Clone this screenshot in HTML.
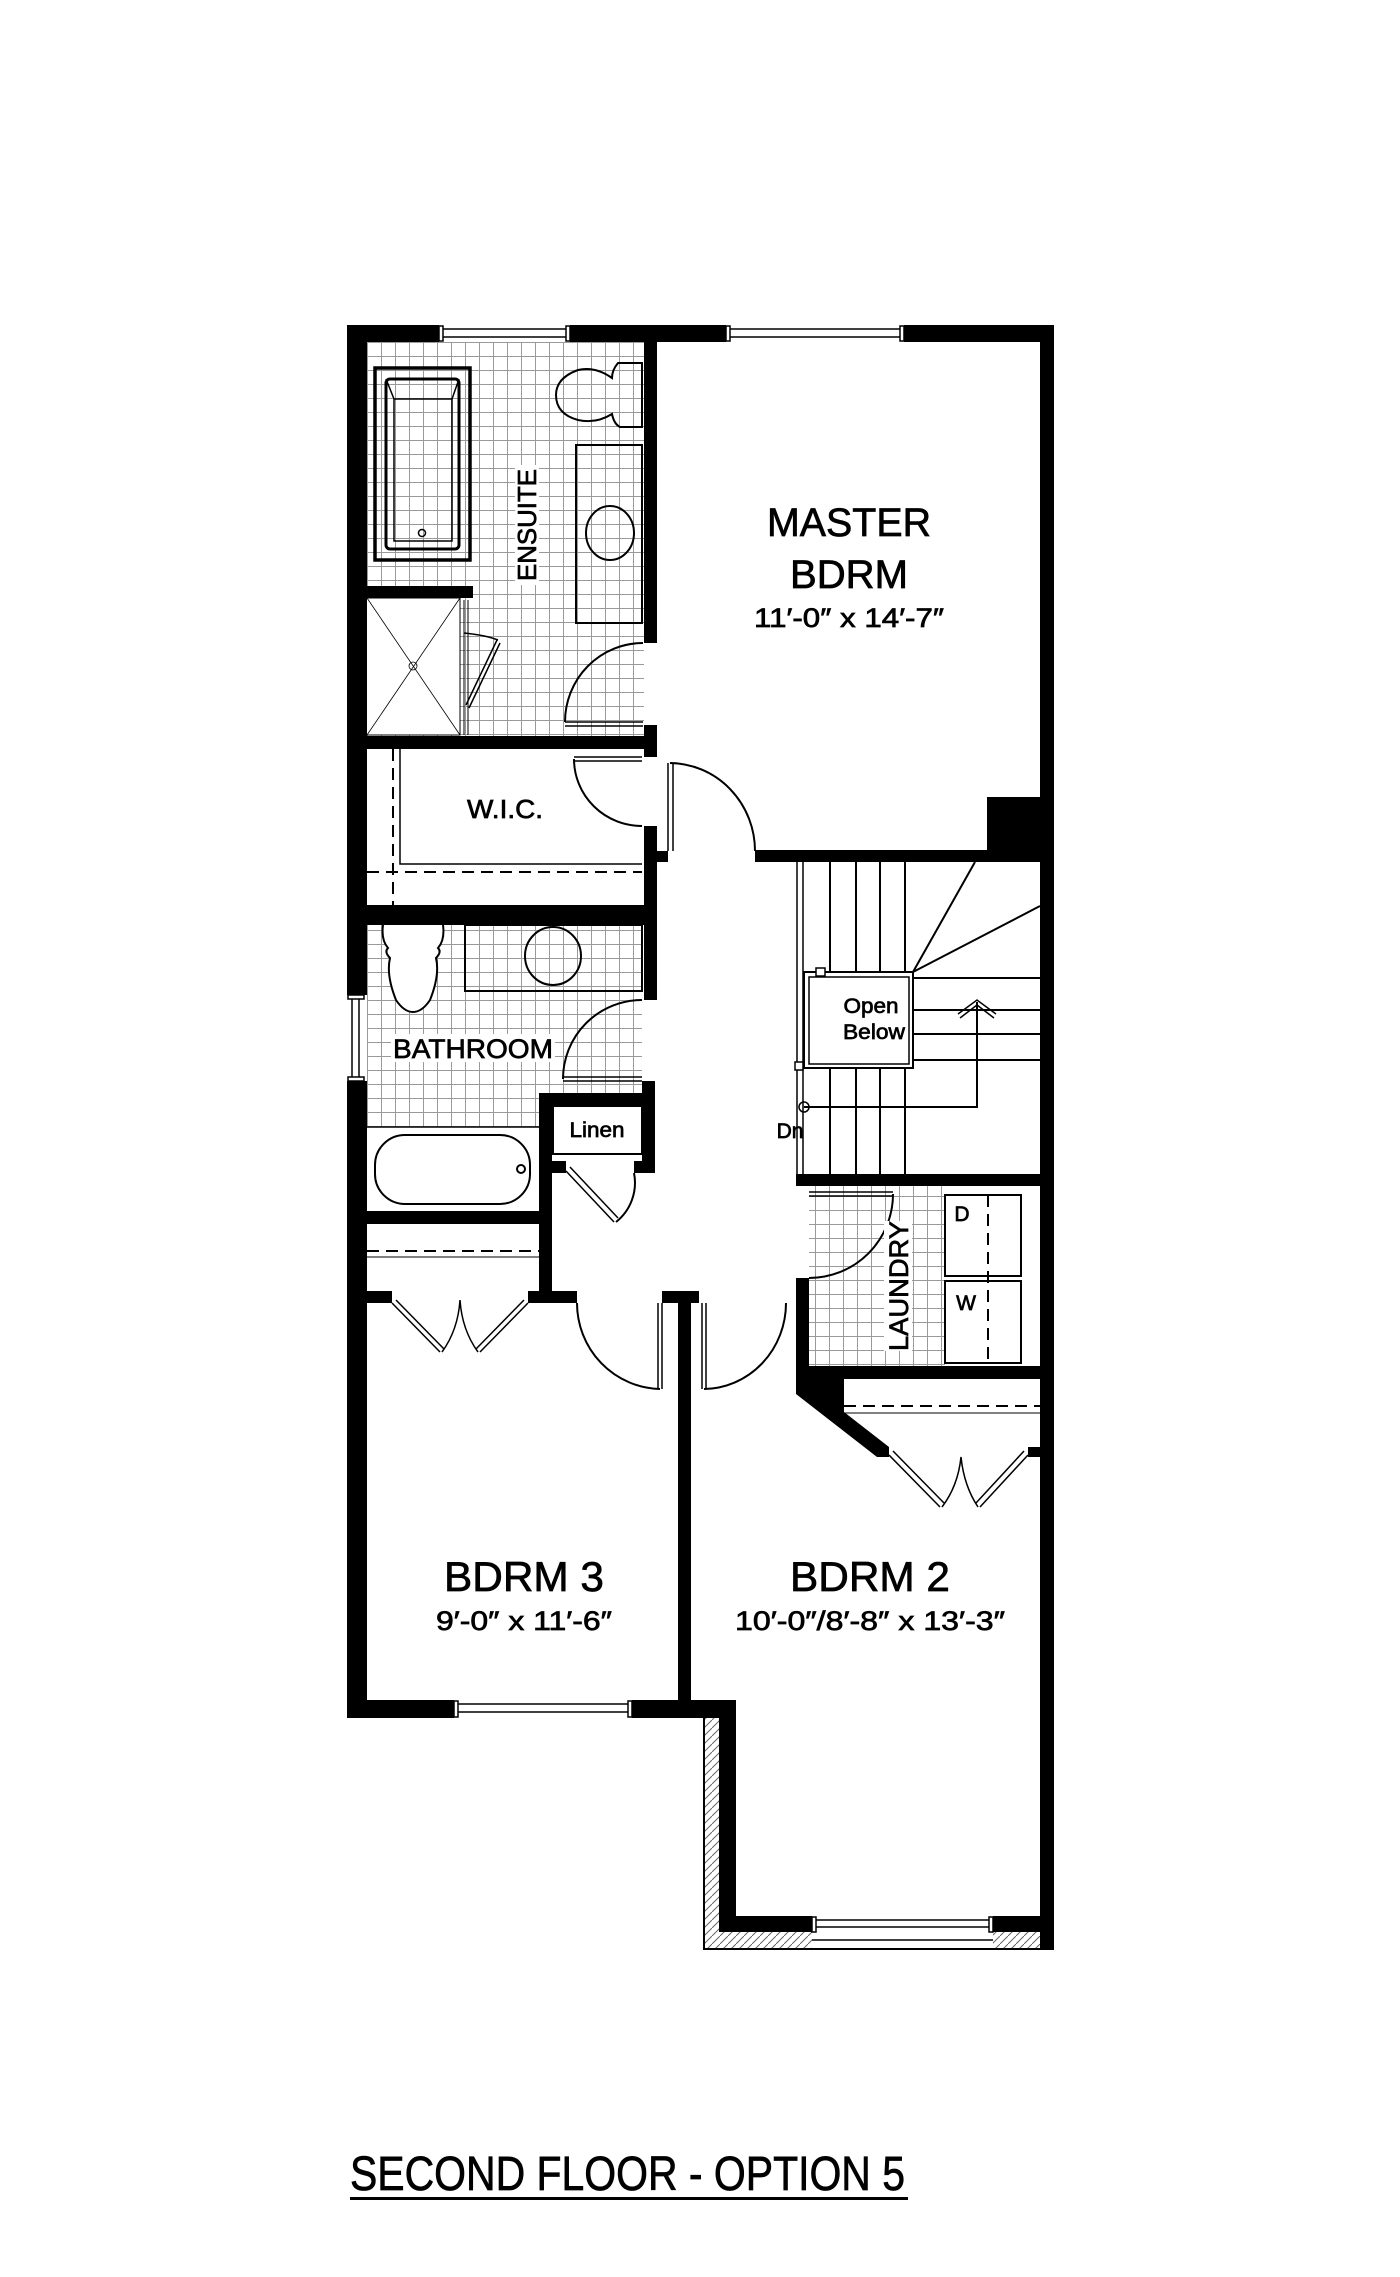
<!DOCTYPE html>
<html><head><meta charset="utf-8"><style>
html,body{margin:0;padding:0;background:#fff}
svg{display:block}
text{font-family:"Liberation Sans","DejaVu Sans",sans-serif;fill:#000;stroke:#000;stroke-width:0.7}
</style></head><body>
<svg width="1400" height="2277" viewBox="0 0 1400 2277" xmlns="http://www.w3.org/2000/svg">
<defs>
<pattern id="tile" x="367" y="342" width="14" height="14" patternUnits="userSpaceOnUse">
<path d="M0 0.5H14M0.5 0V14" stroke="#9a9a9a" stroke-width="1" fill="none"/>
</pattern>
<pattern id="hatch" width="8" height="8" patternUnits="userSpaceOnUse">
<path d="M0 8L8 0" stroke="#666" stroke-width="1"/>
</pattern>
</defs>
<rect width="1400" height="2277" fill="#fff"/>

<rect x="367" y="342" width="277" height="394" fill="url(#tile)"/>
<rect x="367" y="925" width="275" height="202" fill="url(#tile)"/>
<rect x="809" y="1186" width="136" height="180" fill="url(#tile)"/>
<rect x="367" y="598" width="93" height="137" fill="#fff"/>
<rect x="540" y="1093" width="115" height="40" fill="#fff"/>

<g fill="#000">
<rect x="347" y="325" width="92" height="17"/>
<rect x="570" y="325" width="156" height="17"/>
<rect x="904" y="325" width="150" height="17"/>
<rect x="347" y="325" width="20" height="670"/>
<rect x="347" y="1081" width="20" height="637"/>
<rect x="1040" y="325" width="14" height="1624"/>
<rect x="644" y="342" width="13" height="301"/>
<rect x="644" y="725" width="13" height="32"/>
<rect x="644" y="826" width="13" height="174"/>
<rect x="642" y="1081" width="13" height="92"/>
<rect x="367" y="736" width="290" height="13"/>
<rect x="367" y="586" width="106" height="12"/>
<rect x="367" y="905" width="288" height="20"/>
<rect x="755" y="850" width="299" height="12"/>
<rect x="987" y="797" width="53" height="53"/>
<rect x="657" y="851" width="11" height="11"/>
<rect x="539" y="1093" width="116" height="13"/>
<rect x="539" y="1093" width="13" height="198"/>
<rect x="552" y="1161" width="14" height="12"/>
<rect x="634" y="1161" width="21" height="12"/>
<rect x="367" y="1211" width="172" height="13"/>
<rect x="367" y="1291" width="25" height="12"/>
<rect x="528" y="1291" width="49" height="12"/>
<rect x="662" y="1291" width="37" height="12"/>
<rect x="678" y="1291" width="13" height="427"/>
<rect x="796" y="1174" width="258" height="12"/>
<rect x="796" y="1278" width="13" height="101"/>
<rect x="796" y="1366" width="258" height="13"/>
<polygon points="796,1379 844,1379 844,1412 889,1447 889,1457 877,1457 796,1394"/>
<rect x="1028" y="1447" width="12" height="10"/>
<rect x="347" y="1700" width="107" height="18"/>
<rect x="632" y="1700" width="104" height="18"/>
<rect x="719" y="1700" width="17" height="232"/>
<rect x="719" y="1916" width="93" height="16"/>
<rect x="993" y="1916" width="61" height="16"/>
</g>

<rect x="704" y="1718" width="15" height="231" fill="url(#hatch)"/>
<rect x="719" y="1932" width="93" height="17" fill="url(#hatch)"/>
<rect x="993" y="1932" width="47" height="17" fill="url(#hatch)"/>
<path d="M704 1718V1949H1054" stroke="#000" stroke-width="2" fill="none"/>

<g stroke="#000" fill="none" stroke-width="1.5">
<path d="M439 329H570M439 337H570M726 329H904M726 337H904"/>
<rect x="439" y="326" width="4" height="15" fill="#fff"/><rect x="566" y="326" width="4" height="15" fill="#fff"/>
<rect x="726" y="326" width="4" height="15" fill="#fff"/><rect x="900" y="326" width="4" height="15" fill="#fff"/>
<path d="M352 995V1081M359 995V1081"/>
<rect x="348" y="995" width="16" height="4" fill="#fff"/><rect x="348" y="1077" width="16" height="4" fill="#fff"/>
<path d="M454 1704H632M454 1712H632"/>
<rect x="454" y="1701" width="4" height="16" fill="#fff"/><rect x="628" y="1701" width="4" height="16" fill="#fff"/>
<path d="M812 1920H993M812 1927H993M812 1940H993M812 1949H993"/>
<rect x="812" y="1917" width="4" height="15" fill="#fff"/><rect x="989" y="1917" width="4" height="15" fill="#fff"/>

<rect x="375" y="368" width="95" height="192" stroke-width="3.5"/>
<rect x="386" y="379" width="73" height="170" rx="4" stroke-width="3"/>
<rect x="394" y="399" width="58" height="142" stroke-width="1.5"/>
<path d="M386 379L394 399M459 379L452 399"/>
<circle cx="422" cy="533" r="3.5"/>
<path d="M367 598H460V735H367" stroke-width="1"/>
<path d="M367 598L460 735M460 598L367 735" stroke-width="0.8"/>
<circle cx="413" cy="666" r="4" stroke-width="0.8"/>
<path d="M464 600V735M468 600V735" stroke-width="1"/>
<path d="M497 640L466 705M500 643L469 708" stroke-width="1.5"/>
<path d="M464 633Q485 635 498 640"/>
<path d="M642 363H618Q612 370 612 378Q595 366 578 370Q556 378 556 395Q556 414 578 420Q596 424 612 414Q614 424 620 427H642Z" stroke-width="2"/>
<rect x="576" y="445" width="66" height="178" stroke-width="2"/>
<ellipse cx="610" cy="533" rx="24" ry="27" stroke-width="2"/>
<path d="M565 722H643M565 726H643" stroke-width="1.5"/>
<path d="M565 722A78 79 0 0 1 643 643" stroke-width="2"/>
<path d="M574 757H642M574 761H642"/>
<path d="M574 759A68 67 0 0 0 642 826" stroke-width="2"/>
<path d="M668 763V851M673 763V851"/>
<path d="M670 763A86 88 0 0 1 755 851" stroke-width="2"/>
<path d="M393 749V905" stroke-dasharray="12 7" stroke-width="2"/>
<path d="M400 749V864H642" stroke-width="1.5"/>
<path d="M367 872H642" stroke-dasharray="12 7" stroke-width="2"/>
<path d="M383 925Q381 940 388 948Q384 952 390 958Q386 975 396 1000Q404 1012 413 1012Q422 1012 430 1000Q440 975 436 958Q442 952 438 948Q445 940 443 925" stroke-width="2" fill="#fff"/>
<rect x="465" y="925" width="177" height="66" stroke-width="2"/>
<ellipse cx="553" cy="956" rx="28" ry="29" stroke-width="2"/>
<path d="M563 1077H642M563 1081H642"/>
<path d="M563 1079A79 79 0 0 1 642 1000" stroke-width="2"/>
<rect x="553" y="1106" width="89" height="48" stroke-width="2"/>
<path d="M566 1171L614 1222M570 1167L618 1218"/>
<path d="M616 1222A50 50 0 0 0 634 1173" stroke-width="2"/>
<path d="M367 1127H539"/>
<rect x="375" y="1135" width="155" height="69" rx="30" stroke-width="2"/>
<circle cx="521" cy="1169" r="4" stroke-width="2"/>
<path d="M367 1251H539" stroke-dasharray="12 7" stroke-width="2"/>
<path d="M367 1257H539" stroke-width="1"/>
<path d="M392 1303L440 1352M396 1300L444 1349M528 1303L480 1352M524 1300L476 1349"/>
<path d="M442 1352Q458 1330 460 1300Q462 1330 478 1352" stroke-width="1.5"/>
<path d="M658 1303V1389M662 1303V1389M702 1303V1389M706 1303V1389"/>
<path d="M577 1303A85 86 0 0 0 660 1389" stroke-width="2"/>
<path d="M786 1303A83 86 0 0 1 704 1389" stroke-width="2"/>
<path d="M809 1192H893M809 1196H893"/>
<path d="M893 1194A84 84 0 0 1 809 1278" stroke-width="2"/>
<rect x="945" y="1195" width="76" height="81" stroke-width="2"/>
<rect x="945" y="1281" width="76" height="82" stroke-width="2"/>
<path d="M988 1195V1363" stroke-dasharray="12 7" stroke-width="2"/>
<path d="M844 1406H1040" stroke-dasharray="12 7" stroke-width="2"/>
<path d="M844 1413H1040" stroke-width="1"/>
<path d="M889 1455L940 1507M893 1451L944 1503M1028 1455L980 1507M1024 1451L976 1503"/>
<path d="M942 1507Q958 1486 961 1457Q964 1486 978 1507" stroke-width="1.5"/>
<path d="M797 862V1174M803 862V1174" stroke-width="1.5"/>
<path d="M830 862V972M856 862V972M880 862V972M905 862V972" stroke-width="2"/>
<path d="M830 1068V1174M856 1068V1174M880 1068V1174M905 1068V1174" stroke-width="2"/>
<path d="M913 978H1040M913 1010H1040M913 1034H1040M913 1060H1040" stroke-width="2"/>
<path d="M913 972L975 862M913 972L1040 906" stroke-width="2"/>
<rect x="804" y="972" width="109" height="96" stroke-width="2"/>
<rect x="809" y="977" width="100" height="87" stroke-width="1.5"/>
<rect x="816" y="968" width="9" height="8" stroke-width="1.5" fill="#fff"/>
<rect x="795" y="1062" width="8" height="8" stroke-width="1.5" fill="#fff"/>
<path d="M977 1002V1107H804" stroke-width="2"/>
<path d="M958 1014L977 1000L996 1014M960 1018L977 1005L994 1018" stroke-width="1.5"/>
<circle cx="804" cy="1107" r="5" stroke-width="1.5"/>
</g>

<text x="849" y="536" font-size="40" text-anchor="middle" textLength="164" lengthAdjust="spacingAndGlyphs">MASTER</text>
<text x="849" y="588" font-size="40" text-anchor="middle" textLength="118" lengthAdjust="spacingAndGlyphs">BDRM</text>
<text x="849" y="627" font-size="27" text-anchor="middle" textLength="190" lengthAdjust="spacingAndGlyphs">11′-0″ x 14′-7″</text>
<rect x="515" y="465" width="24" height="120" fill="#fff"/>
<text transform="translate(536,525) rotate(-90)" font-size="26" text-anchor="middle" textLength="112" lengthAdjust="spacingAndGlyphs">ENSUITE</text>
<text x="505" y="818" font-size="26" text-anchor="middle" textLength="76" lengthAdjust="spacingAndGlyphs">W.I.C.</text>
<rect x="391" y="1034" width="164" height="28" fill="#fff"/>
<text x="473" y="1058" font-size="27" text-anchor="middle" textLength="160" lengthAdjust="spacingAndGlyphs">BATHROOM</text>
<text x="597" y="1137" font-size="21" text-anchor="middle" textLength="55" lengthAdjust="spacingAndGlyphs">Linen</text>
<text x="871" y="1013" font-size="21" text-anchor="middle" textLength="55" lengthAdjust="spacingAndGlyphs">Open</text>
<text x="874" y="1039" font-size="21" text-anchor="middle" textLength="62" lengthAdjust="spacingAndGlyphs">Below</text>
<text x="790" y="1138" font-size="21" text-anchor="middle">Dn</text>
<text x="962" y="1221" font-size="21" text-anchor="middle">D</text>
<text x="966" y="1310" font-size="21" text-anchor="middle">W</text>
<rect x="884" y="1221" width="28" height="130" fill="#fff"/>
<text transform="translate(908,1286) rotate(-90)" font-size="27" text-anchor="middle" textLength="130" lengthAdjust="spacingAndGlyphs">LAUNDRY</text>
<text x="524" y="1591" font-size="42" text-anchor="middle" textLength="160" lengthAdjust="spacingAndGlyphs">BDRM 3</text>
<text x="524" y="1630" font-size="27" text-anchor="middle" textLength="176" lengthAdjust="spacingAndGlyphs">9′-0″ x 11′-6″</text>
<text x="870" y="1591" font-size="42" text-anchor="middle" textLength="160" lengthAdjust="spacingAndGlyphs">BDRM 2</text>
<text x="870" y="1630" font-size="27" text-anchor="middle" textLength="270" lengthAdjust="spacingAndGlyphs">10′-0″/8′-8″ x 13′-3″</text>
<text x="350" y="2190" font-size="48" textLength="555" lengthAdjust="spacingAndGlyphs">SECOND FLOOR - OPTION 5</text>
<rect x="350" y="2197" width="558" height="3" fill="#000"/>
</svg>
</body></html>
